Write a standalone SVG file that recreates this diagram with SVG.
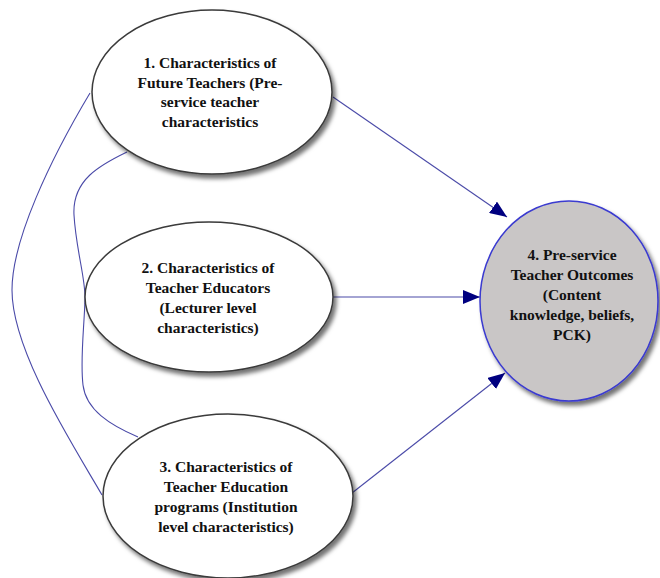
<svg xmlns="http://www.w3.org/2000/svg" width="660" height="578" viewBox="0 0 660 578">
<defs>
<style>
.node ellipse.w{fill:#ffffff;stroke:#3a3a3a;stroke-width:1.5}
.node ellipse.g{fill:#c9c6c6;stroke:#3a3ad0;stroke-width:1.5}
.node text{font-family:"Liberation Serif","Times New Roman",serif;font-weight:bold;font-size:15.5px;fill:#111111;text-anchor:middle}
.conn path{fill:none;stroke:#4a4aa8;stroke-width:1.1}
</style>
<filter id="sh" x="-10%" y="-10%" width="125%" height="125%">
<feDropShadow dx="3" dy="4" stdDeviation="2" flood-color="#000000" flood-opacity="0.55"/>
</filter>
<marker id="arr" markerUnits="userSpaceOnUse" markerWidth="18" markerHeight="14" refX="17" refY="7" orient="auto">
<path d="M0,0 L17,7 L0,14 Z" fill="#000080"/>
</marker>
</defs>
<rect width="660" height="578" fill="#ffffff"/>
<g id="connectors" class="conn">
<path d="M90,93 C50,160 12,240 12,290 C12,350 70,440 102,495"/>
<path d="M127,152 C100,165 72,180 74,215 C76,250 86,280 85,300 C84,330 80,360 83,385 C86,410 110,425 138,437"/>
<path d="M333,97 L507,217" marker-end="url(#arr)"/>
<path d="M322,297 L480,297" marker-end="url(#arr)"/>
<path d="M352,493 L505,373" marker-end="url(#arr)"/>
</g>
<g id="node1" class="node">
<ellipse class="w" cx="212" cy="92" rx="120" ry="82" filter="url(#sh)"/>
<text x="210" y="68">1. Characteristics of</text>
<text x="210" y="88">Future Teachers (Pre-</text>
<text x="210" y="107">service teacher</text>
<text x="210" y="127">characteristics</text>
</g>
<g id="node2" class="node">
<ellipse class="w" cx="209" cy="297" rx="124" ry="75" filter="url(#sh)"/>
<text x="208" y="273">2. Characteristics of</text>
<text x="208" y="293">Teacher Educators</text>
<text x="208" y="313">(Lecturer level</text>
<text x="208" y="333">characteristics)</text>
</g>
<g id="node3" class="node">
<ellipse class="w" cx="228" cy="496" rx="125" ry="82" filter="url(#sh)"/>
<text x="226" y="472">3. Characteristics of</text>
<text x="226" y="492">Teacher Education</text>
<text x="226" y="512">programs (Institution</text>
<text x="226" y="532">level characteristics)</text>
</g>
<g id="node4" class="node">
<ellipse class="g" cx="569" cy="301" rx="89" ry="100" filter="url(#sh)"/>
<text x="572" y="260">4. Pre-service</text>
<text x="572" y="280">Teacher Outcomes</text>
<text x="572" y="300">(Content</text>
<text x="572" y="320">knowledge, beliefs,</text>
<text x="572" y="340">PCK)</text>
</g>
</svg>
